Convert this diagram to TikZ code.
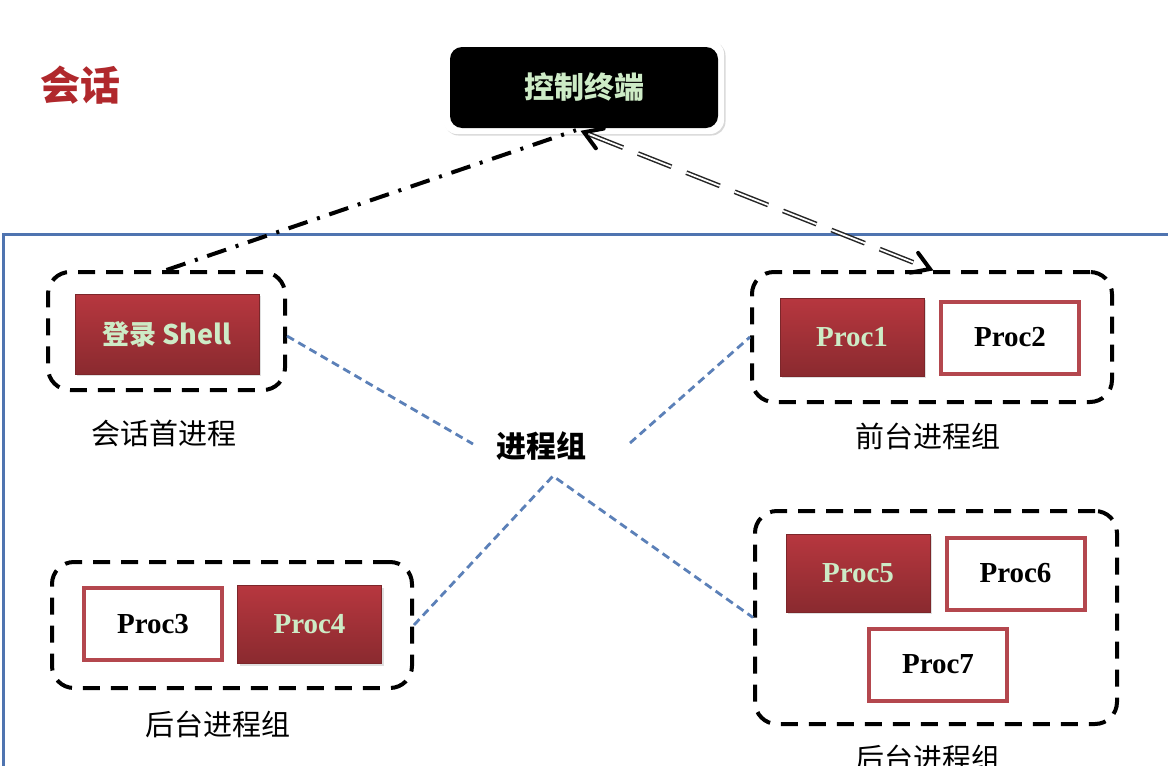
\documentclass[tikz,border=0pt]{standalone}
\usepackage{fontspec}
\newfontfamily\cjk{Noto Sans CJK SC}
\newfontfamily\procf{Liberation Serif}
\usetikzlibrary{calc,shadows}
\definecolor{redtop}{HTML}{B7373F}
\definecolor{redbot}{HTML}{8A2A2F}
\definecolor{redline}{HTML}{B4474E}
\definecolor{lgreen}{HTML}{CDEBC6}
\definecolor{titlered}{HTML}{B0282C}
\definecolor{bluebox}{HTML}{4F74B0}
\definecolor{bluedash}{HTML}{5B80B8}
\tikzset{
  redbox/.style={rectangle, minimum width=144pt, minimum height=78pt, inner sep=0pt,
    top color=redtop, bottom color=redbot, draw=redbot!90!black, line width=0.8pt,
    text=lgreen, font=\procf\bfseries\fontsize{29}{32}\selectfont,
    drop shadow={opacity=0.25, shadow xshift=2pt, shadow yshift=-2pt}},
  whitebox/.style={rectangle, minimum width=138pt, minimum height=72pt, inner sep=0pt,
    fill=white, draw=redline, line width=4pt, text=black,
    font=\procf\bfseries\fontsize{29}{32}\selectfont},
  grp/.style={rectangle, rounded corners=22pt, draw=black, line width=4pt,
    dash pattern=on 17pt off 11pt, inner sep=0pt},
  lbl/.style={font=\cjk\fontsize{29}{32}\selectfont, text=black, inner sep=0pt},
  bdash/.style={draw=bluedash, line width=2.8pt, dash pattern=on 8pt off 5pt},
  chev/.style={draw=black, line width=4pt, line cap=round, line join=miter},
}
\begin{document}
\begin{tikzpicture}[x=1pt,y=-1pt]
\useasboundingbox (0,0) rectangle (1168,766);
\fill[white] (0,0) rectangle (1168,766);

% outer blue frame
\draw[bluebox, line width=3pt] (1180,234) -- (3,234) -- (3,780);

% title
\node[font=\cjk\bfseries\fontsize{40}{44}\selectfont, text=titlered, inner sep=0pt] (title) at (80,85) {会话};

% control terminal
\node[rectangle, rounded corners=14pt, fill=white, minimum width=281pt, minimum height=94pt,
  drop shadow={opacity=0.3, shadow xshift=1.5pt, shadow yshift=-1.5pt}] (termout) at (583.5,87) {};
\node[rectangle, rounded corners=12pt, fill=black, minimum width=268pt, minimum height=81pt,
  text=lgreen, font=\cjk\bfseries\fontsize{30}{34}\selectfont] (term) at (584,87.5) {控制终端};

% group 1 : session leader
\node[grp, minimum width=237pt, minimum height=118pt] (g1) at (166.5,331) {};
\node[redbox, minimum width=184pt, minimum height=80pt, font=\cjk\bfseries\fontsize{27}{30}\selectfont] (shell) at (167,334) {登录 Shell};
\node[lbl] (l1) at (164,433) {会话首进程};

% group 2 : foreground
\node[grp, minimum width=360pt, minimum height=130pt] (g2) at (932,337) {};
\node[redbox] (p1) at (852,337) {Proc1};
\node[whitebox] (p2) at (1010,337.5) {Proc2};
\node[lbl] (l2) at (928,436) {前台进程组};

% group 3 : background
\node[grp, minimum width=360pt, minimum height=126pt] (g3) at (232,625) {};
\node[whitebox] (p3) at (153,624) {Proc3};
\node[redbox] (p4) at (309.5,624.5) {Proc4};
\node[lbl] (l3) at (218,724) {后台进程组};

% group 4 : background
\node[grp, minimum width=362pt, minimum height=213pt] (g4) at (936,617.5) {};
\node[redbox] (p5) at (858,573) {Proc5};
\node[whitebox] (p6) at (1015.5,573.5) {Proc6};
\node[whitebox] (p7) at (938,664.5) {Proc7};
\node[lbl] (l4) at (928,758) {后台进程组};

% process group label
\node[font=\cjk\bfseries\fontsize{30}{34}\selectfont, inner sep=0pt] (pg) at (541,446) {进程组};
\coordinate (pgL) at (473,444);
\coordinate (pgR) at (630,443);
\coordinate (pgB) at (553,476);

% blue dashed connectors
\draw[bdash] ($(g1.east)+(0,5)$) -- (pgL);
\draw[bdash] (pgR) -- (g2.west);
\draw[bdash] (g3.east) -- (pgB) -- (g4.west);

% dash-dot: session leader to terminal
\coordinate (tdd) at ($(term.south)+(-8,2)$);
\draw[line width=4pt, dash pattern=on 20pt off 10pt on 3pt off 10pt] (g1.north) -- (tdd);

% double dashed arrow: terminal <-> foreground group
\coordinate (ta) at ($(term.south)+(0,4)$);
\coordinate (tb) at ($(g2.north)+(-2,-1)$);
\draw[draw=black!85, double=white, double distance=1.8pt, line width=1.5pt,
  dash pattern=on 36pt off 16pt, shorten <=6pt, shorten >=6pt] (ta) -- (tb);
\draw[chev] ($(ta)!20pt!32:(tb)$) -- (ta) -- ($(ta)!20pt!-32:(tb)$);
\draw[chev] ($(tb)!20pt!32:(ta)$) -- (tb) -- ($(tb)!20pt!-32:(ta)$);
\end{tikzpicture}
\end{document}
